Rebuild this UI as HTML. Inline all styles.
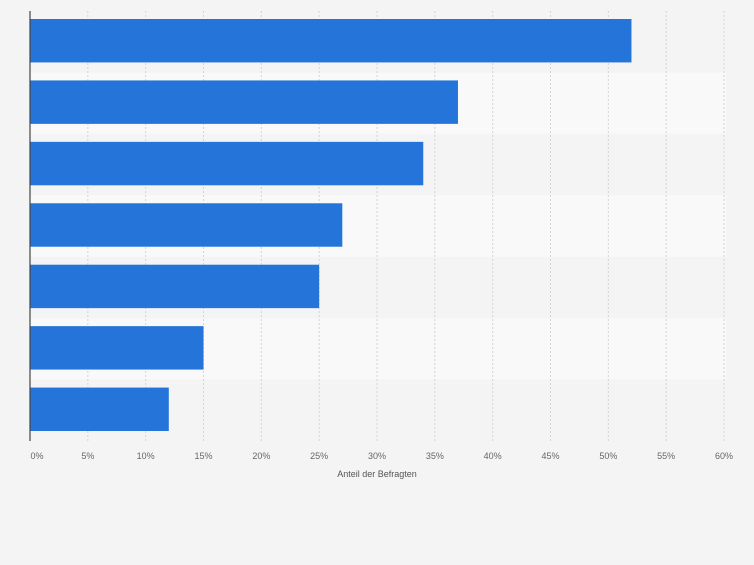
<!DOCTYPE html>
<html><head><meta charset="utf-8"><style>
body{margin:0;background:#f4f4f4;font-family:"Liberation Sans",sans-serif}
</style></head><body>
<svg id="c" width="754" height="560" xmlns="http://www.w3.org/2000/svg"></svg>
<script>
const categories=["A","B","C","D","E","F","G"];
const values=[52,37,34,27,25,15,12];
const ticks=[0,5,10,15,20,25,30,35,40,45,50,55,60];
const tickLabels=ticks.map(t=>t+"%");
const svg=document.getElementById('c');
const NS="http://www.w3.org/2000/svg";
const x0=30,x1=724,plotTop=11,plotBottom=441,maxV=60;
const xs=v=>x0+(v/maxV)*(x1-x0);
const rowH=(plotBottom-plotTop)/categories.length;
function mk(t,a){const e=document.createElementNS(NS,t);for(const k in a)e.setAttribute(k,a[k]);svg.appendChild(e);return e;}
categories.forEach((c,i)=>{if(i%2===1){const r=mk('rect',{x:x0,y:plotTop+i*rowH,width:x1-x0+2,height:rowH,fill:'#f9f9f9'});

}});
ticks.forEach((t,i)=>{if(t>0){const l=mk('line',{x1:xs(t),x2:xs(t),y1:plotTop,y2:plotBottom,stroke:'#d4d4d4','stroke-dasharray':'2,2'});

}
const tx=mk('text',{x:xs(t)+(t===0?7:0),y:459,'text-anchor':'middle','font-size':9,fill:'#666'});


tx.textContent=tickLabels[i];});
values.forEach((v,i)=>{const b=mk('rect',{x:x0,y:plotTop+i*rowH+8,width:xs(v)-x0,height:rowH-18,fill:'#2474da'});

});
const ax=mk('line',{x1:x0,x2:x0,y1:plotTop,y2:plotBottom,stroke:'#444','stroke-width':1.2});


const tt=mk('text',{x:377,y:477,'text-anchor':'middle','font-size':9,fill:'#555'});


tt.textContent="Anteil der Befragten";
</script>
</body></html>
